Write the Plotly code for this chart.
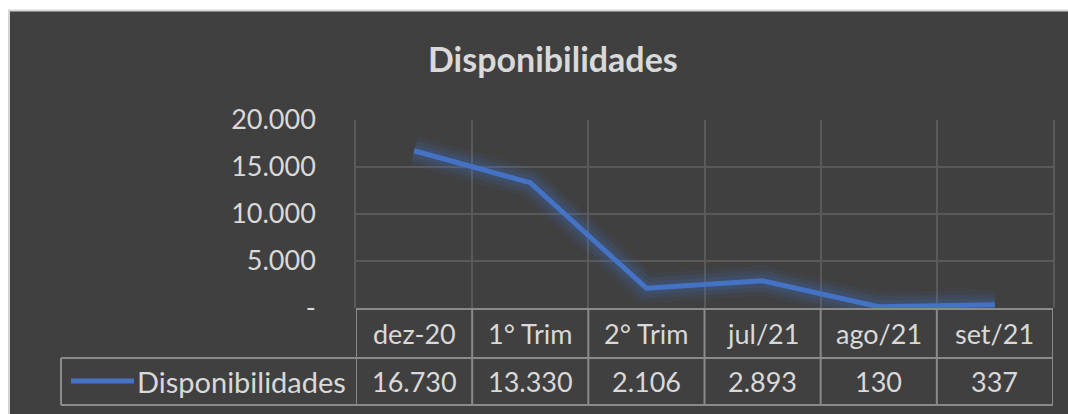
import plotly.graph_objects as go

# ---- data ----
title_text = "Disponibilidades"
series_name = "Disponibilidades"
categories = ["dez-20", "1° Trim", "2° Trim", "jul/21", "ago/21", "set/21"]
values = [16730, 13330, 2106, 2893, 130, 337]
y_tickvals = [0, 5000, 10000, 15000, 20000]


def fmt_br(v):
    return f"{v:,}".replace(",", ".") if v != 0 else "-"


y_ticktext = [fmt_br(v) for v in y_tickvals]

# ---- geometry (page pixels) ----
W, H = 1068, 414
PL, PR, PT, PB = 356, 1053, 120, 308   # plot area
pw, ph = PR - PL, PB - PT


def px(x):
    return (x - PL) / pw


def py(y):
    return (PB - y) / ph


BG = "#404040"
GRID = "#595959"
TBL = "#8a8a8a"
TXT = "#d9d9d9"
BLUE = "#4472C4"
FONT = "Lato"
FS = 27

fig = go.Figure()

# glow layers
for w, a in [(30, 0.08), (21, 0.11), (13, 0.16)]:
    fig.add_trace(go.Scatter(x=categories, y=values, mode="lines",
                             line=dict(color=f"rgba(68,114,196,{a})", width=w),
                             hoverinfo="skip", showlegend=False))
fig.add_trace(go.Scatter(x=categories, y=values, mode="lines", name=series_name,
                         line=dict(color=BLUE, width=5), showlegend=False))

shapes = []
# chart area with light border (top & left visible)
shapes.append(dict(type="rect", xref="paper", yref="paper", layer="below",
                   x0=px(9), x1=px(1200), y0=py(10.5), y1=py(600),
                   fillcolor=BG, line=dict(color="#d4d4d4", width=2)))

# data table lines
ln = dict(color=TBL, width=2)
y_top, y_mid, y_bot = 309, 358, 405
shapes.append(dict(type="line", xref="paper", yref="paper", x0=px(PL), x1=px(PR),
                   y0=py(y_top), y1=py(y_top), line=ln, layer="above"))
shapes.append(dict(type="line", xref="paper", yref="paper", x0=px(61), x1=px(PR),
                   y0=py(y_mid), y1=py(y_mid), line=ln, layer="above"))
shapes.append(dict(type="line", xref="paper", yref="paper", x0=px(61), x1=px(PR),
                   y0=py(y_bot), y1=py(y_bot), line=ln, layer="above"))
shapes.append(dict(type="line", xref="paper", yref="paper", x0=px(61), x1=px(61),
                   y0=py(y_mid), y1=py(y_bot), line=ln, layer="above"))
for i in range(len(categories) + 1):
    shapes.append(dict(type="line", xref="x", yref="paper", x0=i - 0.5, x1=i - 0.5,
                       y0=py(y_top), y1=py(y_bot), line=ln, layer="above"))
# legend key
shapes.append(dict(type="line", xref="paper", yref="paper", x0=px(71), x1=px(134),
                   y0=py(381), y1=py(381), line=dict(color=BLUE, width=5)))

annotations = []
annotations.append(dict(text=f"<b>{title_text}</b>", xref="paper", yref="paper",
                        x=px(553), y=py(59), xanchor="center", yanchor="middle",
                        showarrow=False, font=dict(family=FONT, size=34, color=TXT)))
for c, v in zip(categories, values):
    annotations.append(dict(text=c, xref="x", yref="paper", x=c, y=py(333.5),
                            xanchor="center", yanchor="middle", showarrow=False,
                            font=dict(family=FONT, size=FS, color=TXT)))
    annotations.append(dict(text=fmt_br(v), xref="x", yref="paper", x=c, y=py(381.5),
                            xanchor="center", yanchor="middle", showarrow=False,
                            font=dict(family=FONT, size=FS, color=TXT)))
annotations.append(dict(text=series_name, xref="paper", yref="paper", x=px(348),
                        y=py(381.5), xanchor="right", yanchor="middle", showarrow=False,
                        font=dict(family=FONT, size=29, color=TXT)))

fig.update_layout(
    width=W, height=H,
    margin=dict(l=PL, r=W - PR, t=PT, b=H - PB, pad=0),
    paper_bgcolor="white", plot_bgcolor="rgba(0,0,0,0)",
    shapes=shapes, annotations=annotations, showlegend=False,
    xaxis=dict(type="category", range=[-0.5, len(categories) - 0.5],
               showgrid=True, gridcolor=GRID, gridwidth=1.5, tickson="boundaries",
               showticklabels=False, ticks="", zeroline=False, showline=False,
               fixedrange=True),
    yaxis=dict(range=[0, 20000], tickvals=y_tickvals, ticktext=y_ticktext,
               showgrid=True, gridcolor=GRID, gridwidth=1.5, zeroline=False,
               showline=True, mirror=True, linecolor=GRID, linewidth=1.5,
               ticks="", ticklabelstandoff=33,
               tickfont=dict(family=FONT, size=FS, color=TXT), fixedrange=True),
)

fig.write_html("out.html", config={"displayModeBar": False},
               post_script="document.body.style.margin='0';document.body.style.overflow='hidden';")
